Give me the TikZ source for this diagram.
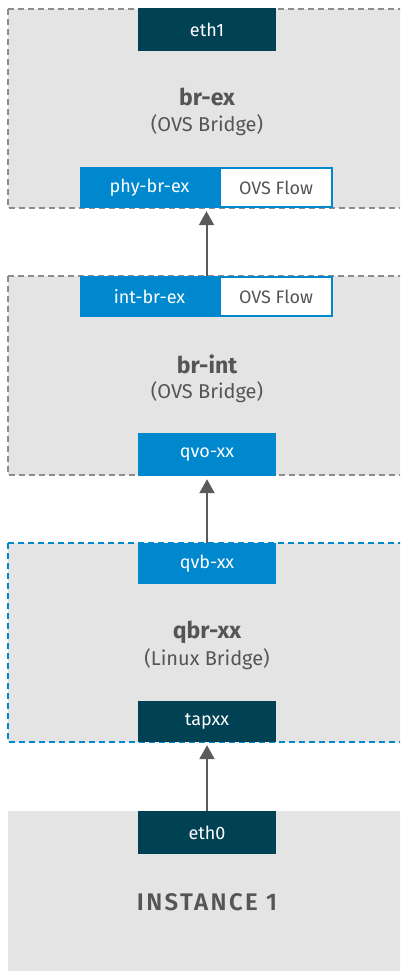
\documentclass[tikz,border=0pt]{standalone}
\usepackage{fontspec}
\setmainfont{Fira Sans}
\newfontfamily\spacedbold[LetterSpace=10]{Fira Sans SemiBold}
\usetikzlibrary{arrows.meta}
\definecolor{rhblue}{HTML}{0088CE}
\definecolor{rhdark}{HTML}{004153}
\definecolor{boxgray}{HTML}{E4E4E4}
\definecolor{dashgray}{HTML}{8C8C8C}
\definecolor{txtgray}{HTML}{555555}
\definecolor{arrgray}{HTML}{5A5A5A}
\tikzset{
  bridge/.style={fill=boxgray, draw=dashgray, line width=1.6pt, dash pattern=on 6pt off 4pt},
  lbridge/.style={bridge, draw=rhblue},
  port/.style={minimum width=138pt, minimum height=43pt, inner sep=0pt, text=white, font=\fontsize{18}{21}\selectfont},
  blueport/.style={port, fill=rhblue},
  darkport/.style={port, fill=rhdark},
  flowbox/.style={minimum width=112pt, minimum height=39pt, inner sep=0pt, fill=white, draw=rhblue, line width=2pt, text=txtgray, font=\fontsize{18}{21}\selectfont},
  title/.style={text=txtgray, font=\fontsize{23}{28}\selectfont\bfseries},
  sub/.style={text=txtgray, font=\fontsize{20}{24}\selectfont},
  arr/.style={draw=arrgray, line width=2pt, -{Triangle[width=15pt,length=14pt]}, shorten >=3pt}
}
\begin{document}
\begin{tikzpicture}[x=1pt,y=-1pt]
\useasboundingbox (0,0) rectangle (400,971);
\clip (0,0) rectangle (400,971);
% bridges
\path[bridge] (8,9) rectangle (412,208);
\path[bridge] (8,276) rectangle (412,475);
\path[lbridge] (8,543) rectangle (412,742);
\fill[boxgray] (8,811) rectangle (412,980);
% br-ex
\node[darkport] (eth1) at (207,29.5) {eth1};
\node[title] (brex) at (207,97) {br-ex};
\node[sub] (brexsub) at (207,125) {(OVS Bridge)};
\node[blueport, minimum width=253pt, minimum height=41pt] (phypair) at (206.5,187.5) {};
\node[blueport, minimum width=139pt, minimum height=41pt] (phy) at (149.5,187.5) {phy-br-ex};
\node[flowbox] (flow1) at (276,187.5) {OVS Flow};
% br-int
\node[blueport, minimum width=253pt, minimum height=41pt] (intpair) at (206.5,296.5) {};
\node[blueport, minimum width=139pt, minimum height=41pt] (intbr) at (149.5,296.5) {int-br-ex};
\node[flowbox] (flow2) at (276,296.5) {OVS Flow};
\node[title] (brint) at (207,364) {br-int};
\node[sub] (brintsub) at (207,392) {(OVS Bridge)};
\node[blueport] (qvo) at (207,454.5) {qvo-xx};
% qbr
\node[blueport, minimum height=41pt] (qvb) at (207,563.5) {qvb-xx};
\node[title] (qbr) at (207,632) {qbr-xx};
\node[sub] (qbrsub) at (207,659) {(Linux Bridge)};
\node[darkport, minimum height=41pt] (tap) at (207,721.5) {tapxx};
% instance
\node[darkport] (eth0) at (207,832.5) {eth0};
\node[text=txtgray, font=\fontsize{24}{28}\spacedbold] (inst) at (207,902) {INSTANCE 1};
% arrows
\draw[arr] (intpair.north) -- (phypair.south);
\draw[arr] (qvb.north) -- (qvo.south);
\draw[arr] (eth0.north) -- (tap.south);
\end{tikzpicture}
\end{document}
